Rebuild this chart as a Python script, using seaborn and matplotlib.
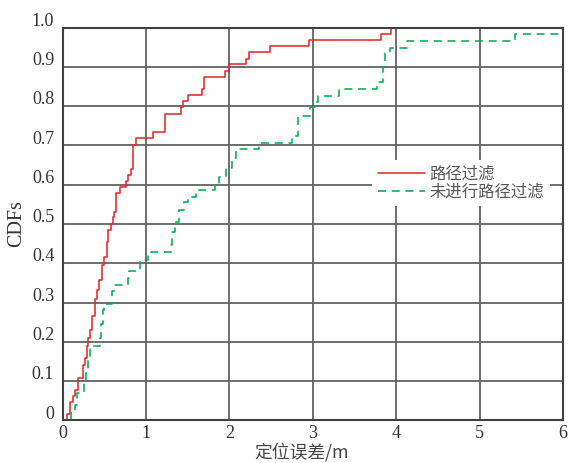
import matplotlib
matplotlib.use("Agg")
import matplotlib.pyplot as plt
from matplotlib.font_manager import FontProperties
from matplotlib.transforms import ScaledTranslation
import seaborn as sns

# Positioning error (m) at each jump of the empirical CDF, and the CDF value after the jump
filtered_err = [0.058, 0.085, 0.125, 0.155, 0.18, 0.25, 0.27, 0.29, 0.31, 0.335,
                0.355, 0.385, 0.41, 0.44, 0.47, 0.50, 0.53, 0.55, 0.578, 0.60,
                0.617, 0.637, 0.69, 0.757, 0.79, 0.82, 0.84, 0.885, 1.08, 1.23,
                1.42, 1.45, 1.50, 1.676, 1.70, 1.95, 1.99, 2.20, 2.24, 2.49,
                2.95, 3.82, 3.94]
filtered_cdf = [0.016, 0.048, 0.062, 0.078, 0.109, 0.141, 0.16, 0.19, 0.21, 0.23,
                0.265, 0.31, 0.333, 0.358, 0.395, 0.415, 0.455, 0.485, 0.50, 0.519,
                0.531, 0.578, 0.593, 0.61, 0.625, 0.64, 0.70, 0.72, 0.735, 0.78,
                0.798, 0.813, 0.828, 0.843, 0.875, 0.89, 0.906, 0.921, 0.937, 0.954,
                0.968, 0.983, 1.0]

raw_err = [0.10, 0.15, 0.17, 0.26, 0.28, 0.31, 0.33, 0.45, 0.46, 0.49,
           0.50, 0.59, 0.62, 0.78, 0.80, 0.93, 1.03, 1.06, 1.30, 1.31,
           1.35, 1.40, 1.46, 1.50, 1.60, 1.83, 1.88, 1.96, 2.03, 2.08,
           2.36, 2.75, 2.82, 2.97, 3.04, 3.06, 3.32, 3.77, 3.84, 3.87,
           3.93, 4.13, 5.43]
raw_cdf = [0.018, 0.04, 0.07, 0.10, 0.12, 0.155, 0.19, 0.21, 0.245, 0.28,
           0.296, 0.33, 0.345, 0.362, 0.38, 0.408, 0.425, 0.43, 0.447, 0.48,
           0.506, 0.536, 0.557, 0.569, 0.587, 0.599, 0.62, 0.642, 0.667, 0.69,
           0.705, 0.724, 0.776, 0.797, 0.81, 0.826, 0.843, 0.862, 0.90, 0.934,
           0.949, 0.966, 0.983]

series_labels = ["路径过滤", "未进行路径过滤"]
x_ticks = [0, 1, 2, 3, 4, 5, 6]
y_ticks = [0, 0.1, 0.2, 0.3, 0.4, 0.5, 0.6, 0.7, 0.8, 0.9, 1.0]
y_tick_labels = ["0", "0.1", "0.2", "0.3", "0.4", "0.5", "0.6", "0.7", "0.8", "0.9", "1.0"]
x_label = "定位误差/m"
y_label = "CDFs"


def step_points(err, cdf, extend_to=None):
    """Start each curve at zero on its first jump, optionally hold the last value."""
    xs = [err[0]] + list(err)
    ys = [0.0] + list(cdf)
    if extend_to is not None:
        xs.append(extend_to)
        ys.append(cdf[-1])
    return xs, ys


sns.set_style("white")
plt.rcParams["font.family"] = ["Liberation Serif", "Noto Sans CJK SC"]
cjk = ["Noto Sans CJK SC", "DejaVu Sans"]

fig, ax = plt.subplots(figsize=(5.71, 4.63), dpi=100)
fig.subplots_adjust(left=0.1095, right=0.986, top=0.9406, bottom=0.0918)

red = "#e8282b"
green = "#00b050"

fx, fy = step_points(filtered_err, filtered_cdf)
sns.lineplot(x=fx, y=fy, ax=ax, color=red, linewidth=1.15, drawstyle="steps-post",
             estimator=None, sort=False, label=series_labels[0])
rx, ry = step_points(raw_err, raw_cdf, extend_to=x_ticks[-1])
sns.lineplot(x=rx, y=ry, ax=ax, color=green, linewidth=1.15, drawstyle="steps-post",
             estimator=None, sort=False, label=series_labels[1])
ax.lines[-1].set_dashes([5.0, 3.6])

ax.set_xlim(x_ticks[0], x_ticks[-1])
ax.set_ylim(0, 1.0)
ax.set_xticks(x_ticks)
ax.set_xticklabels([str(t) for t in x_ticks])
ax.set_yticks(y_ticks)
ax.set_yticklabels(y_tick_labels)

ax.set_axisbelow(True)
ax.grid(True, color="#626262", linewidth=1.3)
for sp in ax.spines.values():
    sp.set_visible(True)
    sp.set_color("#404040")
    sp.set_linewidth(1.5)

ax.tick_params(length=0, labelsize=13, labelcolor="#333333")
ax.tick_params(axis="x", pad=3)
ax.tick_params(axis="y", pad=6)
shift = ScaledTranslation(0, 6 / 72, fig.dpi_scale_trans)
for lab in ax.get_yticklabels():
    lab.set_transform(lab.get_transform() + shift)

ax.set_xlabel(x_label, family=cjk, fontsize=12.8, color="#444444")
ax.xaxis.set_label_coords(0.478, -0.056)
ax.set_ylabel(y_label, fontsize=14.5, color="#333333", labelpad=4)

ax.legend(loc="upper left", bbox_to_anchor=(0.618, 0.663), frameon=True,
          facecolor="white", edgecolor="none", framealpha=1, fancybox=False,
          prop=FontProperties(family=cjk, size=11.8), labelcolor="#555555",
          handlelength=2.9, handletextpad=0.25, labelspacing=0.05,
          borderpad=0.35, borderaxespad=0)

fig.savefig("out.png", dpi=100)
